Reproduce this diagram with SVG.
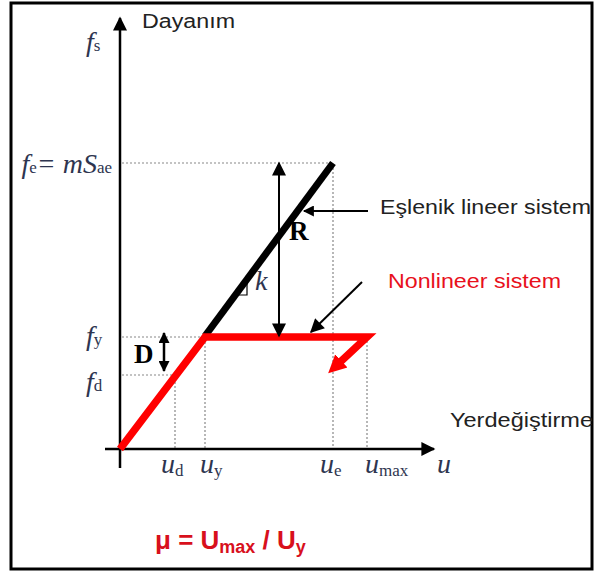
<svg xmlns="http://www.w3.org/2000/svg" width="595" height="574" viewBox="0 0 595 574">
<defs>
<marker id="ahb" viewBox="0 0 10 10" refX="9" refY="5" markerWidth="16" markerHeight="14" markerUnits="userSpaceOnUse" orient="auto-start-reverse"><path d="M0,0 L10,5 L0,10 z" fill="#000"/></marker>
<marker id="ahs" viewBox="0 0 10 10" refX="9" refY="5" markerWidth="13" markerHeight="11" markerUnits="userSpaceOnUse" orient="auto-start-reverse"><path d="M0,0 L10,5 L0,10 z" fill="#000"/></marker>
<marker id="ahr" viewBox="0 0 10 10" refX="3.3" refY="5" markerWidth="18" markerHeight="21" markerUnits="userSpaceOnUse" orient="auto"><path d="M0,0 L10,5 L0,10 z" fill="#f00"/></marker>
</defs>
<style>
.dot{stroke:#888;stroke-width:1.2;stroke-dasharray:2 2;fill:none}
.ax{stroke:#000;stroke-width:2.5;fill:none}
.sym{font-family:"Liberation Serif",serif;font-style:italic;font-size:28px;fill:#2e3550}
.sub{font-family:"Liberation Serif",serif;font-style:normal;font-size:17px;fill:#2e3550}
.lab{font-family:"Liberation Sans",Arial,sans-serif;font-size:20px;fill:#222}
.bold{font-family:"Liberation Serif",serif;font-weight:bold;font-size:27px;fill:#000}
</style>
<rect x="11" y="3" width="581" height="566" fill="#fff" stroke="#000" stroke-width="3"/>
<g id="guides">
<path class="dot" d="M122,163 H333 V449"/>
<path class="dot" d="M122,337 H205 V449"/>
<path class="dot" d="M122,375 H175 V449"/>
<path class="dot" d="M367,337 V449"/>
</g>
<g id="axes">
<line class="ax" x1="120" y1="468" x2="120" y2="18" marker-end="url(#ahb)"/>
<line class="ax" x1="105" y1="449" x2="434" y2="449" marker-end="url(#ahb)"/>
</g>
<g id="linear">
<line x1="205" y1="336" x2="333" y2="163" stroke="#000" stroke-width="7"/>
<path d="M247,279 V295 H235" stroke="#000" stroke-width="1.2" fill="none"/>
</g>
<g id="nonlinear">
<path d="M120,449 L205,337 H367 L337,365" stroke="#f00" stroke-width="7.5" fill="none" stroke-linejoin="miter" marker-end="url(#ahr)"/>
</g>
<g id="connectors">
<line x1="279" y1="336" x2="279" y2="163" stroke="#000" stroke-width="2" marker-start="url(#ahb)" marker-end="url(#ahb)"/>
<line x1="164" y1="371" x2="164" y2="333" stroke="#000" stroke-width="2.5" marker-start="url(#ahs)" marker-end="url(#ahs)"/>
<line x1="368" y1="211" x2="304" y2="211" stroke="#000" stroke-width="2" marker-end="url(#ahs)"/>
<line x1="362" y1="282" x2="311" y2="332" stroke="#000" stroke-width="2" marker-end="url(#ahb)"/>
</g>
<g id="labels">
<text class="sym" x="86" y="51">f<tspan class="sub">s</tspan></text>
<text class="lab" x="142" y="28" textLength="93" lengthAdjust="spacingAndGlyphs">Dayanım</text>
<text class="sym" x="112" y="173" text-anchor="end">f<tspan class="sub">e</tspan><tspan>= mS</tspan><tspan class="sub">ae</tspan></text>
<text class="sym" x="86" y="345">f<tspan class="sub">y</tspan></text>
<text class="sym" x="86" y="391">f<tspan class="sub">d</tspan></text>
<text class="bold" x="134" y="363">D</text>
<text class="bold" x="289" y="240">R</text>
<text class="sym" x="255" y="290">k</text>
<text class="lab" x="380" y="214" textLength="211" lengthAdjust="spacingAndGlyphs">Eşlenik lineer sistem</text>
<text class="lab" x="388" y="288" textLength="173" lengthAdjust="spacingAndGlyphs" style="fill:#e8101c">Nonlineer sistem</text>
<text class="lab" x="450" y="427" textLength="143" lengthAdjust="spacingAndGlyphs">Yerdeğiştirme</text>
<text class="sym" x="161" y="473">u<tspan class="sub" dy="3">d</tspan></text>
<text class="sym" x="200" y="473">u<tspan class="sub" dy="3">y</tspan></text>
<text class="sym" x="320" y="473">u<tspan class="sub" dy="3">e</tspan></text>
<text class="sym" x="365" y="473">u<tspan class="sub" dy="3">max</tspan></text>
<text class="sym" x="437" y="473">u</text>
<text x="155" y="549" font-family="Liberation Sans,Arial,sans-serif" font-weight="bold" font-size="26" fill="#d8101c">μ = U<tspan font-size="18" dy="4">max</tspan><tspan dy="-4"> / U</tspan><tspan font-size="18" dy="4">y</tspan></text>
</g>
</svg>
